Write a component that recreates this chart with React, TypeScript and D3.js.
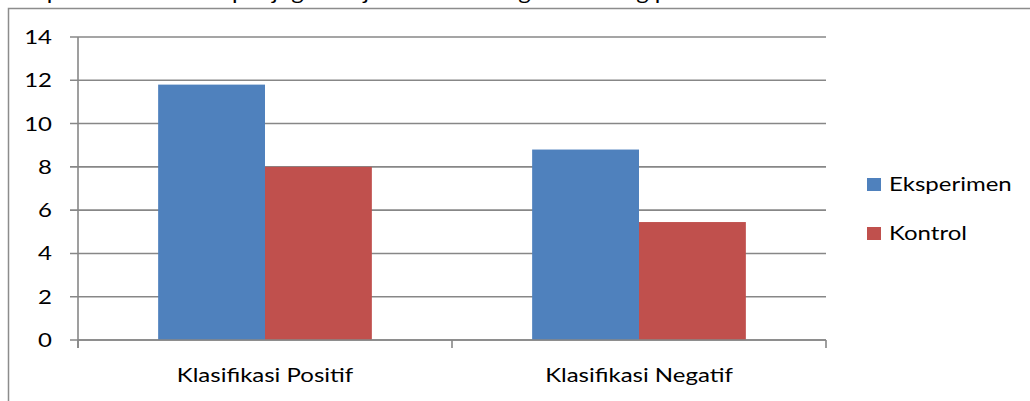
import * as d3 from 'd3';
import React, { useRef, useEffect } from 'react';

// chart data
const categories = ['Klasifikasi Positif', 'Klasifikasi Negatif'];
const seriesNames = ['Eksperimen', 'Kontrol'];
const eksperimen = [11.8, 8.8];
const kontrol = [8.0, 5.45];
const yTicks = [0, 2, 4, 6, 8, 10, 12, 14];
const colors = ['#4f81bd', '#c0504d'];
const captionText = 'komposisi tersebut dapat juga disajikan dalam diagram batang pada Gambar';

const W = 1030;
const H = 401;
const FONT = 'Lato, "Open Sans", sans-serif';
const SX = 1.2; // the reference text is a bit wider than Lato

function App() {
  const ref = useRef<SVGSVGElement>(null);

  useEffect(() => {
    const svg = d3.select(ref.current);
    svg.selectAll('*').remove();

    svg.append('rect').attr('width', W).attr('height', H).attr('fill', '#fff');

    // helper: horizontally stretched text
    const addText = (g: any, x: number, y: number, s: string, anchor: string) =>
      g.append('text')
        .attr('transform', `translate(${x},${y}) scale(${SX},1)`)
        .attr('text-anchor', anchor)
        .attr('font-family', FONT)
        .attr('font-size', 20)
        .attr('fill', '#000')
        .text(s);

    // cut-off line of text above the chart
    addText(svg, 2, 0, captionText, 'start');

    // chart frame
    svg.append('rect')
      .attr('x', 8.5)
      .attr('y', 8.5)
      .attr('width', W + 20)
      .attr('height', H + 20)
      .attr('fill', 'none')
      .attr('stroke', '#8c8c8c')
      .attr('stroke-width', 1.5);

    const left = 78, right = 826, top = 37, bottom = 340;

    const x0 = d3.scaleBand<string>().domain(categories).range([left, right]);
    const x1 = d3.scaleBand<string>()
      .domain(seriesNames)
      .range([0, x0.bandwidth()])
      .paddingOuter(0.75)
      .paddingInner(0);
    const y = d3.scaleLinear().domain([0, 14]).range([bottom, top]);

    // gridlines + y ticks
    svg.append('g')
      .selectAll('line')
      .data(yTicks)
      .enter()
      .append('line')
      .attr('x1', left - 8)
      .attr('x2', right)
      .attr('y1', d => y(d))
      .attr('y2', d => y(d))
      .attr('stroke', '#878787')
      .attr('stroke-width', 1.6);

    const yLab = svg.append('g');
    yTicks.forEach(t => addText(yLab, 52, y(t) + 7, String(t), 'end'));

    // bars
    const series = [eksperimen, kontrol];
    series.forEach((vals, si) => {
      svg.append('g')
        .selectAll('rect')
        .data(categories)
        .enter()
        .append('rect')
        .attr('x', (c) => (x0(c) as number) + (x1(seriesNames[si]) as number))
        .attr('y', (c, i) => y(vals[i]))
        .attr('width', x1.bandwidth())
        .attr('height', (c, i) => bottom - y(vals[i]))
        .attr('fill', colors[si]);
    });

    // y axis line
    svg.append('line')
      .attr('x1', left).attr('x2', left)
      .attr('y1', top).attr('y2', bottom + 8)
      .attr('stroke', '#878787').attr('stroke-width', 1.6);

    // x axis line + ticks
    svg.append('line')
      .attr('x1', left).attr('x2', right)
      .attr('y1', bottom).attr('y2', bottom)
      .attr('stroke', '#878787').attr('stroke-width', 1.6);

    const tickXs = categories.map(c => x0(c) as number).concat([right]);
    svg.append('g')
      .selectAll('line')
      .data(tickXs)
      .enter()
      .append('line')
      .attr('x1', d => d).attr('x2', d => d)
      .attr('y1', bottom).attr('y2', bottom + 8)
      .attr('stroke', '#878787').attr('stroke-width', 1.6);

    const xLab = svg.append('g');
    categories.forEach(c =>
      addText(xLab, (x0(c) as number) + x0.bandwidth() / 2, 382, c, 'middle'));

    // legend
    const legend = svg.append('g');
    seriesNames.forEach((name, i) => {
      const g = legend.append('g').attr('transform', `translate(867, ${178 + i * 49})`);
      g.append('rect')
        .attr('width', 14)
        .attr('height', 13)
        .attr('fill', colors[i]);
      addText(g, 22, 13, name, 'start');
    });
  }, []);

  return (
    <svg
      ref={ref}
      width={W}
      height={H}
      style={{ position: 'absolute', left: 0, top: 0 }}
    />
  );
}

export default App;
